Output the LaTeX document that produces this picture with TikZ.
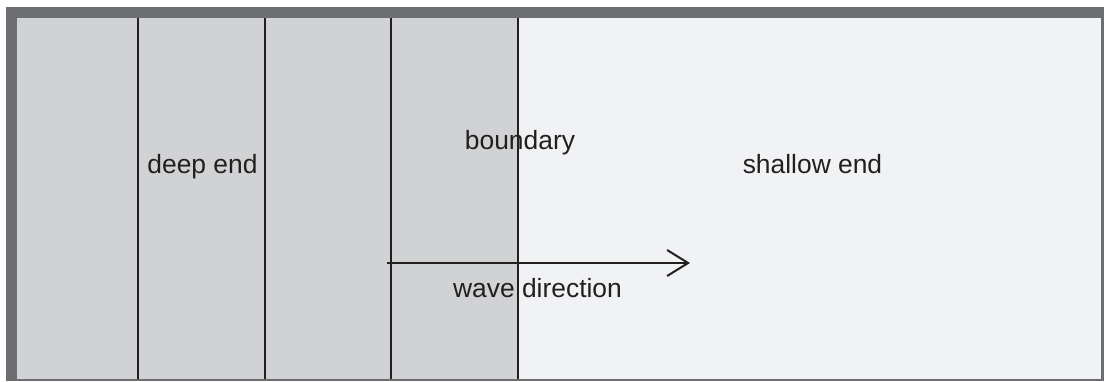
\documentclass[tikz,border=0pt]{standalone}
\usepackage{fontspec}
\setmainfont{Liberation Sans}
\usepackage{xcolor}
\usetikzlibrary{arrows.meta}

\definecolor{framegray}{HTML}{6D6E71}
\definecolor{deepgray}{HTML}{D1D2D4}
\definecolor{shallowgray}{HTML}{F1F2F4}
\definecolor{inkgray}{HTML}{231F20}

\begin{document}
\begin{tikzpicture}[
    x=0.5pt, y=-0.5pt,
    every node/.style={align=center},
    lbl/.style={inner sep=0pt, anchor=base, font=\fontsize{13.2}{15}\selectfont, text=inkgray},
    strip/.style={draw=inkgray, line width=0.8pt},
    wavearrow/.style={-{Straight Barb[length=10.5pt, width=13pt]}, line width=1pt, inkgray}
]
\useasboundingbox (0,0) rectangle (1104,381);

% tank frame and water
\fill[framegray] (6,7) rectangle (1104,381);
\fill[deepgray] (17,18) rectangle (518,379);
\fill[shallowgray] (518,18) rectangle (1101,379);

% depth strips
\foreach \xs in {138,265,391,518}
    \draw[strip] (\xs,18) -- (\xs,379);

% labels
\node[lbl] (deep) at (202.5,173) {deep end};
\node[lbl] (bound) at (520,149) {boundary};
\node[lbl] (shallow) at (812.5,173) {shallow end};
\node[lbl] (wave) at (537.5,297) {wave direction};

% wave direction
\coordinate (wstart) at (387,263);
\coordinate (wend) at (690,263);
\draw[wavearrow] (wstart) -- (wend);

\end{tikzpicture}
\end{document}
